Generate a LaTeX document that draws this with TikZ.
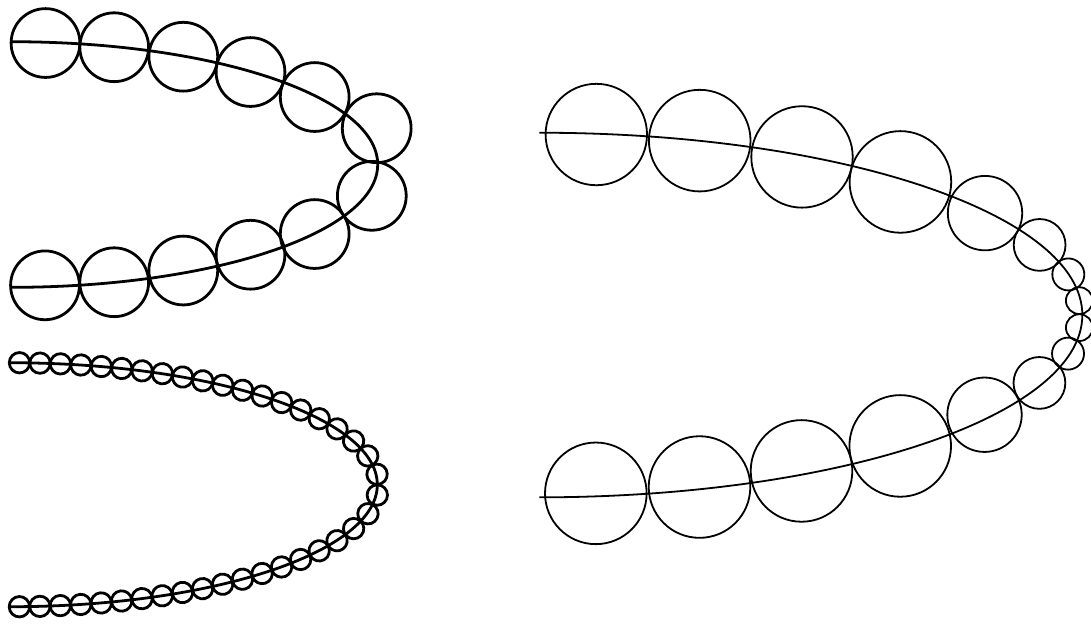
\documentclass[tikz,border=0pt]{standalone}
\usetikzlibrary{decorations.markings}

\begin{document}
\begin{tikzpicture}[
    x=0.0082cm, y=-0.0082cm,
    thread/.style={line width=0.65pt},
    bead/.style={line width=0.65pt},
    finethread/.style={line width=0.42pt},
    finebead/.style={line width=0.42pt},
    beadchain/.style={postaction={decorate}, decoration={markings,
        mark=between positions 0 and 0.99 step 0.025 with {\draw[bead] (10.2,0) circle (10.2);}}}
]
\useasboundingbox (0,0) rectangle (1091,624);

% large beads, top left
\draw[thread] (11.7,41.7) arc[start angle=-90, end angle=90, x radius=366, y radius=122.8];
\foreach \cx/\cy in {45.5/43, 114.2/47.2, 183.3/56.7, 250.5/72, 314.7/97, 376.7/128.2,
                     371.8/195.8, 314.7/234, 250.5/254.7, 183.3/270.5, 114.2/282.2, 45/285.3}
    \draw[bead] (\cx,\cy) circle (34.4);

% small beads, bottom left
\draw[thread, beadchain] (9.3,362.7) arc[start angle=-90, end angle=90, x radius=368, y radius=122];

% beads of varying size, right
\draw[finethread] (539.3,132.7) arc[start angle=-90, end angle=90, x radius=543, y radius=182.3];
\foreach \cx/\cy/\r in {596.3/134.5/50.7, 699.7/140.6/50.8, 802/156.9/50.7, 900.4/181.9/50.8,
                        985/213.1/37.2, 1039.6/244.9/25.9, 1068.3/274.4/16, 1079.3/300.6/13.4,
                        1079.3/327.6/13.4, 1068/353.6/16, 1039.4/382.9/25.9, 984.5/414.7/37.2,
                        900.2/445.9/50.8, 801.5/470.9/50.8, 699.5/487/50.8, 595.8/493.3/50.8}
    \draw[finebead] (\cx,\cy) circle (\r);

\end{tikzpicture}
\end{document}
